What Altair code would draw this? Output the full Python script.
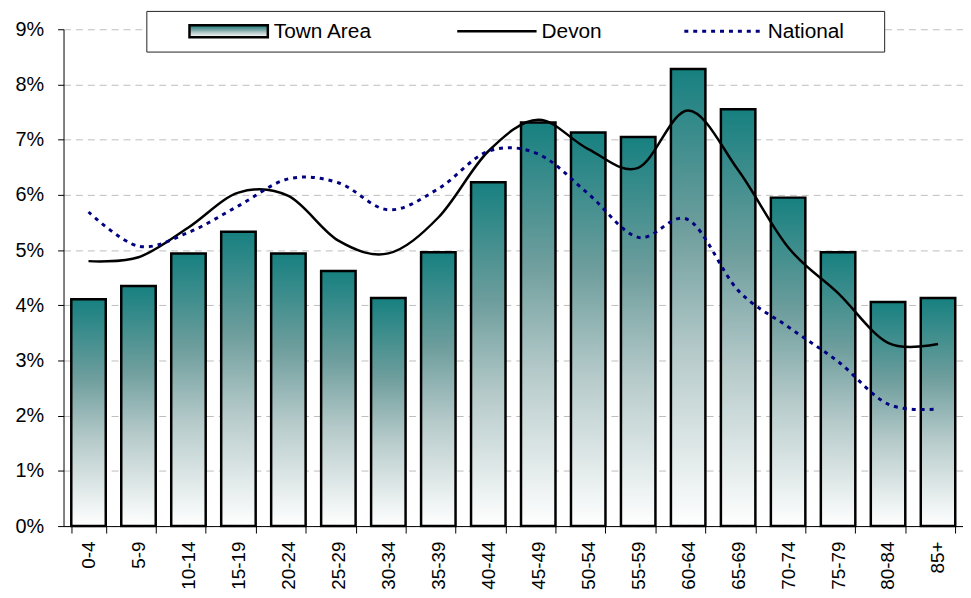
import altair as alt
import pandas as pd

ages = ["0-4", "5-9", "10-14", "15-19", "20-24", "25-29", "30-34", "35-39", "40-44",
        "45-49", "50-54", "55-59", "60-64", "65-69", "70-74", "75-79", "80-84", "85+"]
town = [4.11, 4.35, 4.94, 5.33, 4.94, 4.62, 4.13, 4.96, 6.23,
        7.31, 7.13, 7.05, 8.28, 7.55, 5.95, 4.96, 4.06, 4.13]
devon = [4.80, 4.87, 5.41, 6.04, 5.98, 5.17, 4.94, 5.59, 6.79,
         7.36, 6.83, 6.49, 7.53, 6.45, 5.05, 4.22, 3.32, 3.30]
national = [5.69, 5.07, 5.32, 5.80, 6.29, 6.22, 5.73, 6.11, 6.79,
            6.74, 6.02, 5.23, 5.55, 4.27, 3.61, 2.98, 2.21, 2.12]
y_ticks = [0, 1, 2, 3, 4, 5, 6, 7, 8, 9]
legend_labels = ["Town Area", "Devon", "National"]

df = pd.DataFrame({"age": ages, "town": town, "devon": devon, "national": national})

FONT = "Liberation Sans"
grad = alt.Gradient(
    gradient="linear",
    stops=[
        alt.GradientStop(color="#178080", offset=0),
        alt.GradientStop(color="#6E9E9D", offset=0.35),
        alt.GradientStop(color="#B6CACA", offset=0.62),
        alt.GradientStop(color="#FFFFFF", offset=1),
    ],
    x1=0, x2=0, y1=0, y2=1,
)

x_enc = alt.X(
    "age:N", sort=ages,
    scale=alt.Scale(paddingInner=0.31, paddingOuter=0.155),
    axis=alt.Axis(title=None, labelAngle=-90, tickBand="extent", tickSize=7,
                  labelPadding=8, labelFontSize=19, labelColor="#000",
                  domainColor="#000", tickColor="#000", grid=False),
)
y_scale = alt.Scale(domain=[0, 9], nice=False)
y_axis = alt.Axis(title=None, values=y_ticks, labelExpr="datum.value + '%'",
                  grid=True, gridDash=[7, 5], gridColor="#bdbdbd", gridWidth=1,
                  tickSize=6, labelPadding=14, labelFontSize=20, labelColor="#000",
                  domainColor="#000", tickColor="#000")

base = alt.Chart(df)

bars = base.mark_bar(fill=grad, stroke="#000", strokeWidth=2.5).encode(
    x=x_enc,
    y=alt.Y("town:Q", scale=y_scale, axis=y_axis),
)

devon_line = base.mark_line(color="#000", strokeWidth=2.5, interpolate="cardinal", tension=0).encode(
    x=x_enc, y=alt.Y("devon:Q", scale=y_scale, axis=y_axis),
)

national_line = base.mark_line(color="#000080", strokeWidth=3, strokeDash=[4, 5],
                               interpolate="cardinal", tension=0).encode(
    x=x_enc, y=alt.Y("national:Q", scale=y_scale, axis=y_axis),
)

one = alt.Data(values=[{"k": 1}])

leg_box = alt.Chart(one).mark_rect(fill="white", stroke="#222", strokeWidth=1).encode(
    x=alt.value(84), x2=alt.value(828), y=alt.value(-18), y2=alt.value(23))
leg_swatch = alt.Chart(one).mark_rect(fill=grad, stroke="#000", strokeWidth=2.5).encode(
    x=alt.value(127), x2=alt.value(206), y=alt.value(-4), y2=alt.value(8))
leg_t1 = alt.Chart(one).mark_text(align="left", baseline="alphabetic", fontSize=21, font=FONT, color="#000").encode(
    x=alt.value(212), y=alt.value(9), text=alt.value(legend_labels[0]))
leg_l2 = alt.Chart(one).mark_rule(color="#000", strokeWidth=2.5).encode(
    x=alt.value(397), x2=alt.value(477), y=alt.value(2))
leg_t2 = alt.Chart(one).mark_text(align="left", baseline="alphabetic", fontSize=21, font=FONT, color="#000").encode(
    x=alt.value(482), y=alt.value(9), text=alt.value(legend_labels[1]))
leg_l3 = alt.Chart(one).mark_rule(color="#000080", strokeWidth=3, strokeDash=[4, 5]).encode(
    x=alt.value(626), x2=alt.value(707), y=alt.value(2))
leg_t3 = alt.Chart(one).mark_text(align="left", baseline="alphabetic", fontSize=21, font=FONT, color="#000").encode(
    x=alt.value(710), y=alt.value(9), text=alt.value(legend_labels[2]))

chart = alt.layer(
    bars, devon_line, national_line,
    leg_box, leg_swatch, leg_t1, leg_l2, leg_t2, leg_l3, leg_t3,
).properties(
    width=907, height=501,
    autosize=alt.AutoSizeParams(type="none"),
    padding={"left": 56, "top": 19, "right": 0, "bottom": 62},
).configure_view(stroke=None).configure_axis(labelFont=FONT)

chart.save("out.html", embed_options={"renderer": "svg", "actions": False})
